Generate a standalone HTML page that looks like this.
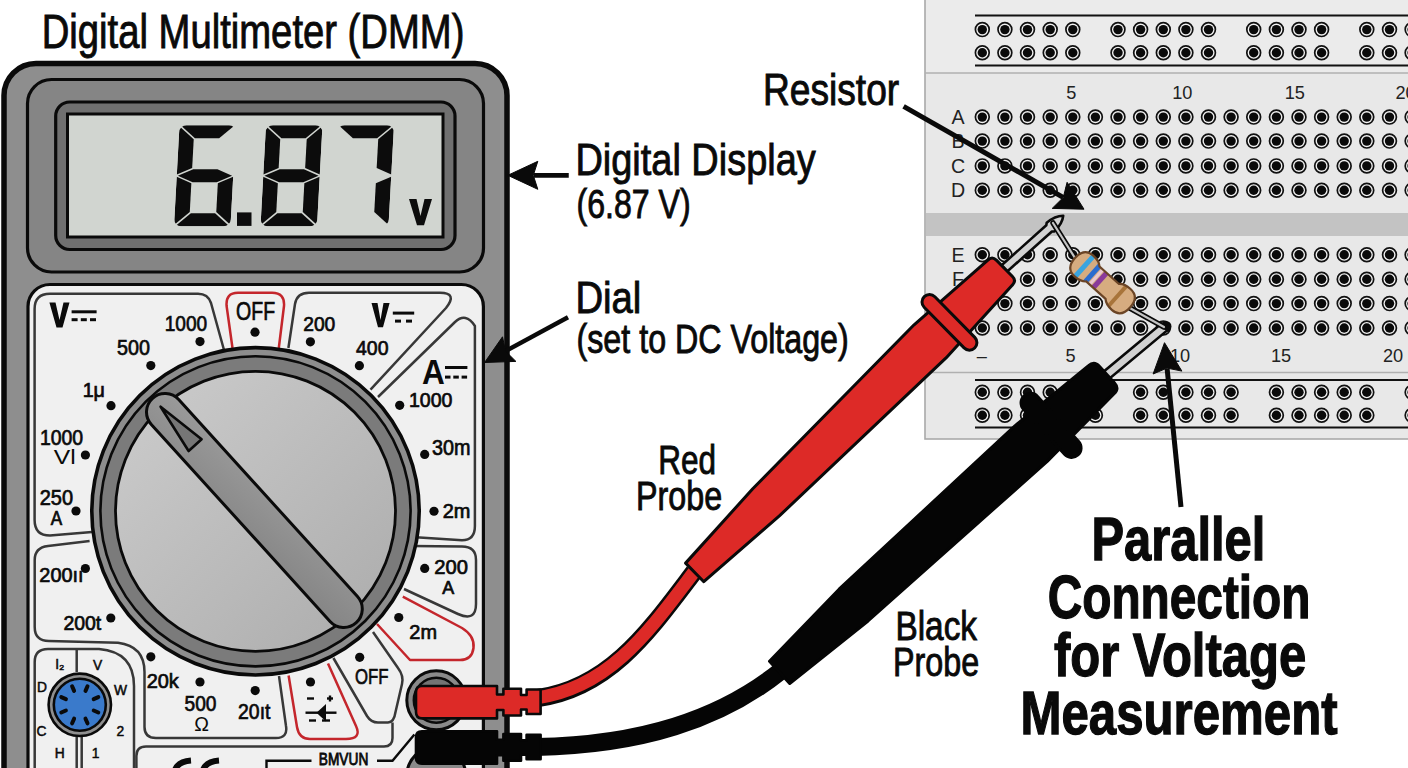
<!DOCTYPE html><html><head><meta charset="utf-8"><style>html,body{margin:0;padding:0;background:#fff;overflow:hidden}svg{display:block}</style></head><body><svg width="1408" height="768" viewBox="0 0 1408 768" font-family='"Liberation Sans", sans-serif'>
<rect width="1408" height="768" fill="#ffffff"/>
<g>
<rect x="925" y="-2" width="490" height="441" fill="#e8e8e8" stroke="#a9a9a9" stroke-width="1.6"/>
<rect x="926" y="0" width="482" height="73" fill="#ebebeb"/>
<line x1="925" y1="73" x2="1408" y2="73" stroke="#b0b0b0" stroke-width="1.5"/>
<rect x="926" y="213" width="482" height="23" fill="#c3c3c3"/>
<line x1="925" y1="372.5" x2="1408" y2="372.5" stroke="#b0b0b0" stroke-width="1.5"/>
<line x1="975" y1="15.5" x2="1408" y2="15.5" stroke="#111" stroke-width="1.8"/>
<line x1="975" y1="65.5" x2="1408" y2="65.5" stroke="#111" stroke-width="1.8"/>
<line x1="975" y1="380" x2="1408" y2="380" stroke="#111" stroke-width="1.8"/>
<line x1="975" y1="427.5" x2="1408" y2="427.5" stroke="#111" stroke-width="1.8"/>
<circle cx="982.3" cy="29.6" r="6.9" fill="#f2f2f2" stroke="#111" stroke-width="1.7"/><circle cx="982.3" cy="29.6" r="4.7" fill="#0a0a0a"/>
<circle cx="1004.9" cy="29.6" r="6.9" fill="#f2f2f2" stroke="#111" stroke-width="1.7"/><circle cx="1004.9" cy="29.6" r="4.7" fill="#0a0a0a"/>
<circle cx="1027.5" cy="29.6" r="6.9" fill="#f2f2f2" stroke="#111" stroke-width="1.7"/><circle cx="1027.5" cy="29.6" r="4.7" fill="#0a0a0a"/>
<circle cx="1050.2" cy="29.6" r="6.9" fill="#f2f2f2" stroke="#111" stroke-width="1.7"/><circle cx="1050.2" cy="29.6" r="4.7" fill="#0a0a0a"/>
<circle cx="1072.8" cy="29.6" r="6.9" fill="#f2f2f2" stroke="#111" stroke-width="1.7"/><circle cx="1072.8" cy="29.6" r="4.7" fill="#0a0a0a"/>
<circle cx="1118.0" cy="29.6" r="6.9" fill="#f2f2f2" stroke="#111" stroke-width="1.7"/><circle cx="1118.0" cy="29.6" r="4.7" fill="#0a0a0a"/>
<circle cx="1140.6" cy="29.6" r="6.9" fill="#f2f2f2" stroke="#111" stroke-width="1.7"/><circle cx="1140.6" cy="29.6" r="4.7" fill="#0a0a0a"/>
<circle cx="1163.3" cy="29.6" r="6.9" fill="#f2f2f2" stroke="#111" stroke-width="1.7"/><circle cx="1163.3" cy="29.6" r="4.7" fill="#0a0a0a"/>
<circle cx="1185.9" cy="29.6" r="6.9" fill="#f2f2f2" stroke="#111" stroke-width="1.7"/><circle cx="1185.9" cy="29.6" r="4.7" fill="#0a0a0a"/>
<circle cx="1208.5" cy="29.6" r="6.9" fill="#f2f2f2" stroke="#111" stroke-width="1.7"/><circle cx="1208.5" cy="29.6" r="4.7" fill="#0a0a0a"/>
<circle cx="1253.7" cy="29.6" r="6.9" fill="#f2f2f2" stroke="#111" stroke-width="1.7"/><circle cx="1253.7" cy="29.6" r="4.7" fill="#0a0a0a"/>
<circle cx="1276.4" cy="29.6" r="6.9" fill="#f2f2f2" stroke="#111" stroke-width="1.7"/><circle cx="1276.4" cy="29.6" r="4.7" fill="#0a0a0a"/>
<circle cx="1299.0" cy="29.6" r="6.9" fill="#f2f2f2" stroke="#111" stroke-width="1.7"/><circle cx="1299.0" cy="29.6" r="4.7" fill="#0a0a0a"/>
<circle cx="1321.6" cy="29.6" r="6.9" fill="#f2f2f2" stroke="#111" stroke-width="1.7"/><circle cx="1321.6" cy="29.6" r="4.7" fill="#0a0a0a"/>
<circle cx="1366.8" cy="29.6" r="6.9" fill="#f2f2f2" stroke="#111" stroke-width="1.7"/><circle cx="1366.8" cy="29.6" r="4.7" fill="#0a0a0a"/>
<circle cx="1389.5" cy="29.6" r="6.9" fill="#f2f2f2" stroke="#111" stroke-width="1.7"/><circle cx="1389.5" cy="29.6" r="4.7" fill="#0a0a0a"/>
<circle cx="1412.1" cy="29.6" r="6.9" fill="#f2f2f2" stroke="#111" stroke-width="1.7"/><circle cx="1412.1" cy="29.6" r="4.7" fill="#0a0a0a"/>
<circle cx="982.3" cy="52.8" r="6.9" fill="#f2f2f2" stroke="#111" stroke-width="1.7"/><circle cx="982.3" cy="52.8" r="4.7" fill="#0a0a0a"/>
<circle cx="1004.9" cy="52.8" r="6.9" fill="#f2f2f2" stroke="#111" stroke-width="1.7"/><circle cx="1004.9" cy="52.8" r="4.7" fill="#0a0a0a"/>
<circle cx="1027.5" cy="52.8" r="6.9" fill="#f2f2f2" stroke="#111" stroke-width="1.7"/><circle cx="1027.5" cy="52.8" r="4.7" fill="#0a0a0a"/>
<circle cx="1050.2" cy="52.8" r="6.9" fill="#f2f2f2" stroke="#111" stroke-width="1.7"/><circle cx="1050.2" cy="52.8" r="4.7" fill="#0a0a0a"/>
<circle cx="1072.8" cy="52.8" r="6.9" fill="#f2f2f2" stroke="#111" stroke-width="1.7"/><circle cx="1072.8" cy="52.8" r="4.7" fill="#0a0a0a"/>
<circle cx="1118.0" cy="52.8" r="6.9" fill="#f2f2f2" stroke="#111" stroke-width="1.7"/><circle cx="1118.0" cy="52.8" r="4.7" fill="#0a0a0a"/>
<circle cx="1140.6" cy="52.8" r="6.9" fill="#f2f2f2" stroke="#111" stroke-width="1.7"/><circle cx="1140.6" cy="52.8" r="4.7" fill="#0a0a0a"/>
<circle cx="1163.3" cy="52.8" r="6.9" fill="#f2f2f2" stroke="#111" stroke-width="1.7"/><circle cx="1163.3" cy="52.8" r="4.7" fill="#0a0a0a"/>
<circle cx="1185.9" cy="52.8" r="6.9" fill="#f2f2f2" stroke="#111" stroke-width="1.7"/><circle cx="1185.9" cy="52.8" r="4.7" fill="#0a0a0a"/>
<circle cx="1208.5" cy="52.8" r="6.9" fill="#f2f2f2" stroke="#111" stroke-width="1.7"/><circle cx="1208.5" cy="52.8" r="4.7" fill="#0a0a0a"/>
<circle cx="1253.7" cy="52.8" r="6.9" fill="#f2f2f2" stroke="#111" stroke-width="1.7"/><circle cx="1253.7" cy="52.8" r="4.7" fill="#0a0a0a"/>
<circle cx="1276.4" cy="52.8" r="6.9" fill="#f2f2f2" stroke="#111" stroke-width="1.7"/><circle cx="1276.4" cy="52.8" r="4.7" fill="#0a0a0a"/>
<circle cx="1299.0" cy="52.8" r="6.9" fill="#f2f2f2" stroke="#111" stroke-width="1.7"/><circle cx="1299.0" cy="52.8" r="4.7" fill="#0a0a0a"/>
<circle cx="1321.6" cy="52.8" r="6.9" fill="#f2f2f2" stroke="#111" stroke-width="1.7"/><circle cx="1321.6" cy="52.8" r="4.7" fill="#0a0a0a"/>
<circle cx="1366.8" cy="52.8" r="6.9" fill="#f2f2f2" stroke="#111" stroke-width="1.7"/><circle cx="1366.8" cy="52.8" r="4.7" fill="#0a0a0a"/>
<circle cx="1389.5" cy="52.8" r="6.9" fill="#f2f2f2" stroke="#111" stroke-width="1.7"/><circle cx="1389.5" cy="52.8" r="4.7" fill="#0a0a0a"/>
<circle cx="1412.1" cy="52.8" r="6.9" fill="#f2f2f2" stroke="#111" stroke-width="1.7"/><circle cx="1412.1" cy="52.8" r="4.7" fill="#0a0a0a"/>
<circle cx="982.3" cy="392.3" r="6.9" fill="#f2f2f2" stroke="#111" stroke-width="1.7"/><circle cx="982.3" cy="392.3" r="4.7" fill="#0a0a0a"/>
<circle cx="1004.9" cy="392.3" r="6.9" fill="#f2f2f2" stroke="#111" stroke-width="1.7"/><circle cx="1004.9" cy="392.3" r="4.7" fill="#0a0a0a"/>
<circle cx="1027.5" cy="392.3" r="6.9" fill="#f2f2f2" stroke="#111" stroke-width="1.7"/><circle cx="1027.5" cy="392.3" r="4.7" fill="#0a0a0a"/>
<circle cx="1050.2" cy="392.3" r="6.9" fill="#f2f2f2" stroke="#111" stroke-width="1.7"/><circle cx="1050.2" cy="392.3" r="4.7" fill="#0a0a0a"/>
<circle cx="1072.8" cy="392.3" r="6.9" fill="#f2f2f2" stroke="#111" stroke-width="1.7"/><circle cx="1072.8" cy="392.3" r="4.7" fill="#0a0a0a"/>
<circle cx="1095.4" cy="392.3" r="6.9" fill="#f2f2f2" stroke="#111" stroke-width="1.7"/><circle cx="1095.4" cy="392.3" r="4.7" fill="#0a0a0a"/>
<circle cx="1140.6" cy="392.3" r="6.9" fill="#f2f2f2" stroke="#111" stroke-width="1.7"/><circle cx="1140.6" cy="392.3" r="4.7" fill="#0a0a0a"/>
<circle cx="1163.3" cy="392.3" r="6.9" fill="#f2f2f2" stroke="#111" stroke-width="1.7"/><circle cx="1163.3" cy="392.3" r="4.7" fill="#0a0a0a"/>
<circle cx="1185.9" cy="392.3" r="6.9" fill="#f2f2f2" stroke="#111" stroke-width="1.7"/><circle cx="1185.9" cy="392.3" r="4.7" fill="#0a0a0a"/>
<circle cx="1208.5" cy="392.3" r="6.9" fill="#f2f2f2" stroke="#111" stroke-width="1.7"/><circle cx="1208.5" cy="392.3" r="4.7" fill="#0a0a0a"/>
<circle cx="1231.1" cy="392.3" r="6.9" fill="#f2f2f2" stroke="#111" stroke-width="1.7"/><circle cx="1231.1" cy="392.3" r="4.7" fill="#0a0a0a"/>
<circle cx="1276.4" cy="392.3" r="6.9" fill="#f2f2f2" stroke="#111" stroke-width="1.7"/><circle cx="1276.4" cy="392.3" r="4.7" fill="#0a0a0a"/>
<circle cx="1299.0" cy="392.3" r="6.9" fill="#f2f2f2" stroke="#111" stroke-width="1.7"/><circle cx="1299.0" cy="392.3" r="4.7" fill="#0a0a0a"/>
<circle cx="1321.6" cy="392.3" r="6.9" fill="#f2f2f2" stroke="#111" stroke-width="1.7"/><circle cx="1321.6" cy="392.3" r="4.7" fill="#0a0a0a"/>
<circle cx="1344.2" cy="392.3" r="6.9" fill="#f2f2f2" stroke="#111" stroke-width="1.7"/><circle cx="1344.2" cy="392.3" r="4.7" fill="#0a0a0a"/>
<circle cx="1366.8" cy="392.3" r="6.9" fill="#f2f2f2" stroke="#111" stroke-width="1.7"/><circle cx="1366.8" cy="392.3" r="4.7" fill="#0a0a0a"/>
<circle cx="1412.1" cy="392.3" r="6.9" fill="#f2f2f2" stroke="#111" stroke-width="1.7"/><circle cx="1412.1" cy="392.3" r="4.7" fill="#0a0a0a"/>
<circle cx="982.3" cy="415.3" r="6.9" fill="#f2f2f2" stroke="#111" stroke-width="1.7"/><circle cx="982.3" cy="415.3" r="4.7" fill="#0a0a0a"/>
<circle cx="1004.9" cy="415.3" r="6.9" fill="#f2f2f2" stroke="#111" stroke-width="1.7"/><circle cx="1004.9" cy="415.3" r="4.7" fill="#0a0a0a"/>
<circle cx="1027.5" cy="415.3" r="6.9" fill="#f2f2f2" stroke="#111" stroke-width="1.7"/><circle cx="1027.5" cy="415.3" r="4.7" fill="#0a0a0a"/>
<circle cx="1050.2" cy="415.3" r="6.9" fill="#f2f2f2" stroke="#111" stroke-width="1.7"/><circle cx="1050.2" cy="415.3" r="4.7" fill="#0a0a0a"/>
<circle cx="1072.8" cy="415.3" r="6.9" fill="#f2f2f2" stroke="#111" stroke-width="1.7"/><circle cx="1072.8" cy="415.3" r="4.7" fill="#0a0a0a"/>
<circle cx="1095.4" cy="415.3" r="6.9" fill="#f2f2f2" stroke="#111" stroke-width="1.7"/><circle cx="1095.4" cy="415.3" r="4.7" fill="#0a0a0a"/>
<circle cx="1140.6" cy="415.3" r="6.9" fill="#f2f2f2" stroke="#111" stroke-width="1.7"/><circle cx="1140.6" cy="415.3" r="4.7" fill="#0a0a0a"/>
<circle cx="1163.3" cy="415.3" r="6.9" fill="#f2f2f2" stroke="#111" stroke-width="1.7"/><circle cx="1163.3" cy="415.3" r="4.7" fill="#0a0a0a"/>
<circle cx="1185.9" cy="415.3" r="6.9" fill="#f2f2f2" stroke="#111" stroke-width="1.7"/><circle cx="1185.9" cy="415.3" r="4.7" fill="#0a0a0a"/>
<circle cx="1208.5" cy="415.3" r="6.9" fill="#f2f2f2" stroke="#111" stroke-width="1.7"/><circle cx="1208.5" cy="415.3" r="4.7" fill="#0a0a0a"/>
<circle cx="1231.1" cy="415.3" r="6.9" fill="#f2f2f2" stroke="#111" stroke-width="1.7"/><circle cx="1231.1" cy="415.3" r="4.7" fill="#0a0a0a"/>
<circle cx="1276.4" cy="415.3" r="6.9" fill="#f2f2f2" stroke="#111" stroke-width="1.7"/><circle cx="1276.4" cy="415.3" r="4.7" fill="#0a0a0a"/>
<circle cx="1299.0" cy="415.3" r="6.9" fill="#f2f2f2" stroke="#111" stroke-width="1.7"/><circle cx="1299.0" cy="415.3" r="4.7" fill="#0a0a0a"/>
<circle cx="1321.6" cy="415.3" r="6.9" fill="#f2f2f2" stroke="#111" stroke-width="1.7"/><circle cx="1321.6" cy="415.3" r="4.7" fill="#0a0a0a"/>
<circle cx="1344.2" cy="415.3" r="6.9" fill="#f2f2f2" stroke="#111" stroke-width="1.7"/><circle cx="1344.2" cy="415.3" r="4.7" fill="#0a0a0a"/>
<circle cx="1366.8" cy="415.3" r="6.9" fill="#f2f2f2" stroke="#111" stroke-width="1.7"/><circle cx="1366.8" cy="415.3" r="4.7" fill="#0a0a0a"/>
<circle cx="1412.1" cy="415.3" r="6.9" fill="#f2f2f2" stroke="#111" stroke-width="1.7"/><circle cx="1412.1" cy="415.3" r="4.7" fill="#0a0a0a"/>
<circle cx="982.3" cy="117.1" r="6.9" fill="#f2f2f2" stroke="#111" stroke-width="1.7"/><circle cx="982.3" cy="117.1" r="4.7" fill="#0a0a0a"/>
<circle cx="1004.9" cy="117.1" r="6.9" fill="#f2f2f2" stroke="#111" stroke-width="1.7"/><circle cx="1004.9" cy="117.1" r="4.7" fill="#0a0a0a"/>
<circle cx="1027.5" cy="117.1" r="6.9" fill="#f2f2f2" stroke="#111" stroke-width="1.7"/><circle cx="1027.5" cy="117.1" r="4.7" fill="#0a0a0a"/>
<circle cx="1050.2" cy="117.1" r="6.9" fill="#f2f2f2" stroke="#111" stroke-width="1.7"/><circle cx="1050.2" cy="117.1" r="4.7" fill="#0a0a0a"/>
<circle cx="1072.8" cy="117.1" r="6.9" fill="#f2f2f2" stroke="#111" stroke-width="1.7"/><circle cx="1072.8" cy="117.1" r="4.7" fill="#0a0a0a"/>
<circle cx="1095.4" cy="117.1" r="6.9" fill="#f2f2f2" stroke="#111" stroke-width="1.7"/><circle cx="1095.4" cy="117.1" r="4.7" fill="#0a0a0a"/>
<circle cx="1118.0" cy="117.1" r="6.9" fill="#f2f2f2" stroke="#111" stroke-width="1.7"/><circle cx="1118.0" cy="117.1" r="4.7" fill="#0a0a0a"/>
<circle cx="1140.6" cy="117.1" r="6.9" fill="#f2f2f2" stroke="#111" stroke-width="1.7"/><circle cx="1140.6" cy="117.1" r="4.7" fill="#0a0a0a"/>
<circle cx="1163.3" cy="117.1" r="6.9" fill="#f2f2f2" stroke="#111" stroke-width="1.7"/><circle cx="1163.3" cy="117.1" r="4.7" fill="#0a0a0a"/>
<circle cx="1185.9" cy="117.1" r="6.9" fill="#f2f2f2" stroke="#111" stroke-width="1.7"/><circle cx="1185.9" cy="117.1" r="4.7" fill="#0a0a0a"/>
<circle cx="1208.5" cy="117.1" r="6.9" fill="#f2f2f2" stroke="#111" stroke-width="1.7"/><circle cx="1208.5" cy="117.1" r="4.7" fill="#0a0a0a"/>
<circle cx="1231.1" cy="117.1" r="6.9" fill="#f2f2f2" stroke="#111" stroke-width="1.7"/><circle cx="1231.1" cy="117.1" r="4.7" fill="#0a0a0a"/>
<circle cx="1253.7" cy="117.1" r="6.9" fill="#f2f2f2" stroke="#111" stroke-width="1.7"/><circle cx="1253.7" cy="117.1" r="4.7" fill="#0a0a0a"/>
<circle cx="1276.4" cy="117.1" r="6.9" fill="#f2f2f2" stroke="#111" stroke-width="1.7"/><circle cx="1276.4" cy="117.1" r="4.7" fill="#0a0a0a"/>
<circle cx="1299.0" cy="117.1" r="6.9" fill="#f2f2f2" stroke="#111" stroke-width="1.7"/><circle cx="1299.0" cy="117.1" r="4.7" fill="#0a0a0a"/>
<circle cx="1321.6" cy="117.1" r="6.9" fill="#f2f2f2" stroke="#111" stroke-width="1.7"/><circle cx="1321.6" cy="117.1" r="4.7" fill="#0a0a0a"/>
<circle cx="1344.2" cy="117.1" r="6.9" fill="#f2f2f2" stroke="#111" stroke-width="1.7"/><circle cx="1344.2" cy="117.1" r="4.7" fill="#0a0a0a"/>
<circle cx="1366.8" cy="117.1" r="6.9" fill="#f2f2f2" stroke="#111" stroke-width="1.7"/><circle cx="1366.8" cy="117.1" r="4.7" fill="#0a0a0a"/>
<circle cx="1389.5" cy="117.1" r="6.9" fill="#f2f2f2" stroke="#111" stroke-width="1.7"/><circle cx="1389.5" cy="117.1" r="4.7" fill="#0a0a0a"/>
<circle cx="1412.1" cy="117.1" r="6.9" fill="#f2f2f2" stroke="#111" stroke-width="1.7"/><circle cx="1412.1" cy="117.1" r="4.7" fill="#0a0a0a"/>
<circle cx="982.3" cy="141.1" r="6.9" fill="#f2f2f2" stroke="#111" stroke-width="1.7"/><circle cx="982.3" cy="141.1" r="4.7" fill="#0a0a0a"/>
<circle cx="1004.9" cy="141.1" r="6.9" fill="#f2f2f2" stroke="#111" stroke-width="1.7"/><circle cx="1004.9" cy="141.1" r="4.7" fill="#0a0a0a"/>
<circle cx="1027.5" cy="141.1" r="6.9" fill="#f2f2f2" stroke="#111" stroke-width="1.7"/><circle cx="1027.5" cy="141.1" r="4.7" fill="#0a0a0a"/>
<circle cx="1050.2" cy="141.1" r="6.9" fill="#f2f2f2" stroke="#111" stroke-width="1.7"/><circle cx="1050.2" cy="141.1" r="4.7" fill="#0a0a0a"/>
<circle cx="1072.8" cy="141.1" r="6.9" fill="#f2f2f2" stroke="#111" stroke-width="1.7"/><circle cx="1072.8" cy="141.1" r="4.7" fill="#0a0a0a"/>
<circle cx="1095.4" cy="141.1" r="6.9" fill="#f2f2f2" stroke="#111" stroke-width="1.7"/><circle cx="1095.4" cy="141.1" r="4.7" fill="#0a0a0a"/>
<circle cx="1118.0" cy="141.1" r="6.9" fill="#f2f2f2" stroke="#111" stroke-width="1.7"/><circle cx="1118.0" cy="141.1" r="4.7" fill="#0a0a0a"/>
<circle cx="1140.6" cy="141.1" r="6.9" fill="#f2f2f2" stroke="#111" stroke-width="1.7"/><circle cx="1140.6" cy="141.1" r="4.7" fill="#0a0a0a"/>
<circle cx="1163.3" cy="141.1" r="6.9" fill="#f2f2f2" stroke="#111" stroke-width="1.7"/><circle cx="1163.3" cy="141.1" r="4.7" fill="#0a0a0a"/>
<circle cx="1185.9" cy="141.1" r="6.9" fill="#f2f2f2" stroke="#111" stroke-width="1.7"/><circle cx="1185.9" cy="141.1" r="4.7" fill="#0a0a0a"/>
<circle cx="1208.5" cy="141.1" r="6.9" fill="#f2f2f2" stroke="#111" stroke-width="1.7"/><circle cx="1208.5" cy="141.1" r="4.7" fill="#0a0a0a"/>
<circle cx="1231.1" cy="141.1" r="6.9" fill="#f2f2f2" stroke="#111" stroke-width="1.7"/><circle cx="1231.1" cy="141.1" r="4.7" fill="#0a0a0a"/>
<circle cx="1253.7" cy="141.1" r="6.9" fill="#f2f2f2" stroke="#111" stroke-width="1.7"/><circle cx="1253.7" cy="141.1" r="4.7" fill="#0a0a0a"/>
<circle cx="1276.4" cy="141.1" r="6.9" fill="#f2f2f2" stroke="#111" stroke-width="1.7"/><circle cx="1276.4" cy="141.1" r="4.7" fill="#0a0a0a"/>
<circle cx="1299.0" cy="141.1" r="6.9" fill="#f2f2f2" stroke="#111" stroke-width="1.7"/><circle cx="1299.0" cy="141.1" r="4.7" fill="#0a0a0a"/>
<circle cx="1321.6" cy="141.1" r="6.9" fill="#f2f2f2" stroke="#111" stroke-width="1.7"/><circle cx="1321.6" cy="141.1" r="4.7" fill="#0a0a0a"/>
<circle cx="1344.2" cy="141.1" r="6.9" fill="#f2f2f2" stroke="#111" stroke-width="1.7"/><circle cx="1344.2" cy="141.1" r="4.7" fill="#0a0a0a"/>
<circle cx="1366.8" cy="141.1" r="6.9" fill="#f2f2f2" stroke="#111" stroke-width="1.7"/><circle cx="1366.8" cy="141.1" r="4.7" fill="#0a0a0a"/>
<circle cx="1389.5" cy="141.1" r="6.9" fill="#f2f2f2" stroke="#111" stroke-width="1.7"/><circle cx="1389.5" cy="141.1" r="4.7" fill="#0a0a0a"/>
<circle cx="1412.1" cy="141.1" r="6.9" fill="#f2f2f2" stroke="#111" stroke-width="1.7"/><circle cx="1412.1" cy="141.1" r="4.7" fill="#0a0a0a"/>
<circle cx="982.3" cy="165.9" r="6.9" fill="#f2f2f2" stroke="#111" stroke-width="1.7"/><circle cx="982.3" cy="165.9" r="4.7" fill="#0a0a0a"/>
<circle cx="1004.9" cy="165.9" r="6.9" fill="#f2f2f2" stroke="#111" stroke-width="1.7"/><circle cx="1004.9" cy="165.9" r="4.7" fill="#0a0a0a"/>
<circle cx="1027.5" cy="165.9" r="6.9" fill="#f2f2f2" stroke="#111" stroke-width="1.7"/><circle cx="1027.5" cy="165.9" r="4.7" fill="#0a0a0a"/>
<circle cx="1050.2" cy="165.9" r="6.9" fill="#f2f2f2" stroke="#111" stroke-width="1.7"/><circle cx="1050.2" cy="165.9" r="4.7" fill="#0a0a0a"/>
<circle cx="1072.8" cy="165.9" r="6.9" fill="#f2f2f2" stroke="#111" stroke-width="1.7"/><circle cx="1072.8" cy="165.9" r="4.7" fill="#0a0a0a"/>
<circle cx="1095.4" cy="165.9" r="6.9" fill="#f2f2f2" stroke="#111" stroke-width="1.7"/><circle cx="1095.4" cy="165.9" r="4.7" fill="#0a0a0a"/>
<circle cx="1118.0" cy="165.9" r="6.9" fill="#f2f2f2" stroke="#111" stroke-width="1.7"/><circle cx="1118.0" cy="165.9" r="4.7" fill="#0a0a0a"/>
<circle cx="1140.6" cy="165.9" r="6.9" fill="#f2f2f2" stroke="#111" stroke-width="1.7"/><circle cx="1140.6" cy="165.9" r="4.7" fill="#0a0a0a"/>
<circle cx="1163.3" cy="165.9" r="6.9" fill="#f2f2f2" stroke="#111" stroke-width="1.7"/><circle cx="1163.3" cy="165.9" r="4.7" fill="#0a0a0a"/>
<circle cx="1185.9" cy="165.9" r="6.9" fill="#f2f2f2" stroke="#111" stroke-width="1.7"/><circle cx="1185.9" cy="165.9" r="4.7" fill="#0a0a0a"/>
<circle cx="1208.5" cy="165.9" r="6.9" fill="#f2f2f2" stroke="#111" stroke-width="1.7"/><circle cx="1208.5" cy="165.9" r="4.7" fill="#0a0a0a"/>
<circle cx="1231.1" cy="165.9" r="6.9" fill="#f2f2f2" stroke="#111" stroke-width="1.7"/><circle cx="1231.1" cy="165.9" r="4.7" fill="#0a0a0a"/>
<circle cx="1253.7" cy="165.9" r="6.9" fill="#f2f2f2" stroke="#111" stroke-width="1.7"/><circle cx="1253.7" cy="165.9" r="4.7" fill="#0a0a0a"/>
<circle cx="1276.4" cy="165.9" r="6.9" fill="#f2f2f2" stroke="#111" stroke-width="1.7"/><circle cx="1276.4" cy="165.9" r="4.7" fill="#0a0a0a"/>
<circle cx="1299.0" cy="165.9" r="6.9" fill="#f2f2f2" stroke="#111" stroke-width="1.7"/><circle cx="1299.0" cy="165.9" r="4.7" fill="#0a0a0a"/>
<circle cx="1321.6" cy="165.9" r="6.9" fill="#f2f2f2" stroke="#111" stroke-width="1.7"/><circle cx="1321.6" cy="165.9" r="4.7" fill="#0a0a0a"/>
<circle cx="1344.2" cy="165.9" r="6.9" fill="#f2f2f2" stroke="#111" stroke-width="1.7"/><circle cx="1344.2" cy="165.9" r="4.7" fill="#0a0a0a"/>
<circle cx="1366.8" cy="165.9" r="6.9" fill="#f2f2f2" stroke="#111" stroke-width="1.7"/><circle cx="1366.8" cy="165.9" r="4.7" fill="#0a0a0a"/>
<circle cx="1389.5" cy="165.9" r="6.9" fill="#f2f2f2" stroke="#111" stroke-width="1.7"/><circle cx="1389.5" cy="165.9" r="4.7" fill="#0a0a0a"/>
<circle cx="1412.1" cy="165.9" r="6.9" fill="#f2f2f2" stroke="#111" stroke-width="1.7"/><circle cx="1412.1" cy="165.9" r="4.7" fill="#0a0a0a"/>
<circle cx="982.3" cy="190.2" r="6.9" fill="#f2f2f2" stroke="#111" stroke-width="1.7"/><circle cx="982.3" cy="190.2" r="4.7" fill="#0a0a0a"/>
<circle cx="1004.9" cy="190.2" r="6.9" fill="#f2f2f2" stroke="#111" stroke-width="1.7"/><circle cx="1004.9" cy="190.2" r="4.7" fill="#0a0a0a"/>
<circle cx="1027.5" cy="190.2" r="6.9" fill="#f2f2f2" stroke="#111" stroke-width="1.7"/><circle cx="1027.5" cy="190.2" r="4.7" fill="#0a0a0a"/>
<circle cx="1050.2" cy="190.2" r="6.9" fill="#f2f2f2" stroke="#111" stroke-width="1.7"/><circle cx="1050.2" cy="190.2" r="4.7" fill="#0a0a0a"/>
<circle cx="1072.8" cy="190.2" r="6.9" fill="#f2f2f2" stroke="#111" stroke-width="1.7"/><circle cx="1072.8" cy="190.2" r="4.7" fill="#0a0a0a"/>
<circle cx="1095.4" cy="190.2" r="6.9" fill="#f2f2f2" stroke="#111" stroke-width="1.7"/><circle cx="1095.4" cy="190.2" r="4.7" fill="#0a0a0a"/>
<circle cx="1118.0" cy="190.2" r="6.9" fill="#f2f2f2" stroke="#111" stroke-width="1.7"/><circle cx="1118.0" cy="190.2" r="4.7" fill="#0a0a0a"/>
<circle cx="1140.6" cy="190.2" r="6.9" fill="#f2f2f2" stroke="#111" stroke-width="1.7"/><circle cx="1140.6" cy="190.2" r="4.7" fill="#0a0a0a"/>
<circle cx="1163.3" cy="190.2" r="6.9" fill="#f2f2f2" stroke="#111" stroke-width="1.7"/><circle cx="1163.3" cy="190.2" r="4.7" fill="#0a0a0a"/>
<circle cx="1185.9" cy="190.2" r="6.9" fill="#f2f2f2" stroke="#111" stroke-width="1.7"/><circle cx="1185.9" cy="190.2" r="4.7" fill="#0a0a0a"/>
<circle cx="1208.5" cy="190.2" r="6.9" fill="#f2f2f2" stroke="#111" stroke-width="1.7"/><circle cx="1208.5" cy="190.2" r="4.7" fill="#0a0a0a"/>
<circle cx="1231.1" cy="190.2" r="6.9" fill="#f2f2f2" stroke="#111" stroke-width="1.7"/><circle cx="1231.1" cy="190.2" r="4.7" fill="#0a0a0a"/>
<circle cx="1253.7" cy="190.2" r="6.9" fill="#f2f2f2" stroke="#111" stroke-width="1.7"/><circle cx="1253.7" cy="190.2" r="4.7" fill="#0a0a0a"/>
<circle cx="1276.4" cy="190.2" r="6.9" fill="#f2f2f2" stroke="#111" stroke-width="1.7"/><circle cx="1276.4" cy="190.2" r="4.7" fill="#0a0a0a"/>
<circle cx="1299.0" cy="190.2" r="6.9" fill="#f2f2f2" stroke="#111" stroke-width="1.7"/><circle cx="1299.0" cy="190.2" r="4.7" fill="#0a0a0a"/>
<circle cx="1321.6" cy="190.2" r="6.9" fill="#f2f2f2" stroke="#111" stroke-width="1.7"/><circle cx="1321.6" cy="190.2" r="4.7" fill="#0a0a0a"/>
<circle cx="1344.2" cy="190.2" r="6.9" fill="#f2f2f2" stroke="#111" stroke-width="1.7"/><circle cx="1344.2" cy="190.2" r="4.7" fill="#0a0a0a"/>
<circle cx="1366.8" cy="190.2" r="6.9" fill="#f2f2f2" stroke="#111" stroke-width="1.7"/><circle cx="1366.8" cy="190.2" r="4.7" fill="#0a0a0a"/>
<circle cx="1389.5" cy="190.2" r="6.9" fill="#f2f2f2" stroke="#111" stroke-width="1.7"/><circle cx="1389.5" cy="190.2" r="4.7" fill="#0a0a0a"/>
<circle cx="1412.1" cy="190.2" r="6.9" fill="#f2f2f2" stroke="#111" stroke-width="1.7"/><circle cx="1412.1" cy="190.2" r="4.7" fill="#0a0a0a"/>
<circle cx="982.3" cy="254.7" r="6.9" fill="#f2f2f2" stroke="#111" stroke-width="1.7"/><circle cx="982.3" cy="254.7" r="4.7" fill="#0a0a0a"/>
<circle cx="1004.9" cy="254.7" r="6.9" fill="#f2f2f2" stroke="#111" stroke-width="1.7"/><circle cx="1004.9" cy="254.7" r="4.7" fill="#0a0a0a"/>
<circle cx="1027.5" cy="254.7" r="6.9" fill="#f2f2f2" stroke="#111" stroke-width="1.7"/><circle cx="1027.5" cy="254.7" r="4.7" fill="#0a0a0a"/>
<circle cx="1050.2" cy="254.7" r="6.9" fill="#f2f2f2" stroke="#111" stroke-width="1.7"/><circle cx="1050.2" cy="254.7" r="4.7" fill="#0a0a0a"/>
<circle cx="1072.8" cy="254.7" r="6.9" fill="#f2f2f2" stroke="#111" stroke-width="1.7"/><circle cx="1072.8" cy="254.7" r="4.7" fill="#0a0a0a"/>
<circle cx="1095.4" cy="254.7" r="6.9" fill="#f2f2f2" stroke="#111" stroke-width="1.7"/><circle cx="1095.4" cy="254.7" r="4.7" fill="#0a0a0a"/>
<circle cx="1118.0" cy="254.7" r="6.9" fill="#f2f2f2" stroke="#111" stroke-width="1.7"/><circle cx="1118.0" cy="254.7" r="4.7" fill="#0a0a0a"/>
<circle cx="1140.6" cy="254.7" r="6.9" fill="#f2f2f2" stroke="#111" stroke-width="1.7"/><circle cx="1140.6" cy="254.7" r="4.7" fill="#0a0a0a"/>
<circle cx="1163.3" cy="254.7" r="6.9" fill="#f2f2f2" stroke="#111" stroke-width="1.7"/><circle cx="1163.3" cy="254.7" r="4.7" fill="#0a0a0a"/>
<circle cx="1185.9" cy="254.7" r="6.9" fill="#f2f2f2" stroke="#111" stroke-width="1.7"/><circle cx="1185.9" cy="254.7" r="4.7" fill="#0a0a0a"/>
<circle cx="1208.5" cy="254.7" r="6.9" fill="#f2f2f2" stroke="#111" stroke-width="1.7"/><circle cx="1208.5" cy="254.7" r="4.7" fill="#0a0a0a"/>
<circle cx="1231.1" cy="254.7" r="6.9" fill="#f2f2f2" stroke="#111" stroke-width="1.7"/><circle cx="1231.1" cy="254.7" r="4.7" fill="#0a0a0a"/>
<circle cx="1253.7" cy="254.7" r="6.9" fill="#f2f2f2" stroke="#111" stroke-width="1.7"/><circle cx="1253.7" cy="254.7" r="4.7" fill="#0a0a0a"/>
<circle cx="1276.4" cy="254.7" r="6.9" fill="#f2f2f2" stroke="#111" stroke-width="1.7"/><circle cx="1276.4" cy="254.7" r="4.7" fill="#0a0a0a"/>
<circle cx="1299.0" cy="254.7" r="6.9" fill="#f2f2f2" stroke="#111" stroke-width="1.7"/><circle cx="1299.0" cy="254.7" r="4.7" fill="#0a0a0a"/>
<circle cx="1321.6" cy="254.7" r="6.9" fill="#f2f2f2" stroke="#111" stroke-width="1.7"/><circle cx="1321.6" cy="254.7" r="4.7" fill="#0a0a0a"/>
<circle cx="1344.2" cy="254.7" r="6.9" fill="#f2f2f2" stroke="#111" stroke-width="1.7"/><circle cx="1344.2" cy="254.7" r="4.7" fill="#0a0a0a"/>
<circle cx="1366.8" cy="254.7" r="6.9" fill="#f2f2f2" stroke="#111" stroke-width="1.7"/><circle cx="1366.8" cy="254.7" r="4.7" fill="#0a0a0a"/>
<circle cx="1389.5" cy="254.7" r="6.9" fill="#f2f2f2" stroke="#111" stroke-width="1.7"/><circle cx="1389.5" cy="254.7" r="4.7" fill="#0a0a0a"/>
<circle cx="1412.1" cy="254.7" r="6.9" fill="#f2f2f2" stroke="#111" stroke-width="1.7"/><circle cx="1412.1" cy="254.7" r="4.7" fill="#0a0a0a"/>
<circle cx="982.3" cy="279.2" r="6.9" fill="#f2f2f2" stroke="#111" stroke-width="1.7"/><circle cx="982.3" cy="279.2" r="4.7" fill="#0a0a0a"/>
<circle cx="1004.9" cy="279.2" r="6.9" fill="#f2f2f2" stroke="#111" stroke-width="1.7"/><circle cx="1004.9" cy="279.2" r="4.7" fill="#0a0a0a"/>
<circle cx="1027.5" cy="279.2" r="6.9" fill="#f2f2f2" stroke="#111" stroke-width="1.7"/><circle cx="1027.5" cy="279.2" r="4.7" fill="#0a0a0a"/>
<circle cx="1050.2" cy="279.2" r="6.9" fill="#f2f2f2" stroke="#111" stroke-width="1.7"/><circle cx="1050.2" cy="279.2" r="4.7" fill="#0a0a0a"/>
<circle cx="1072.8" cy="279.2" r="6.9" fill="#f2f2f2" stroke="#111" stroke-width="1.7"/><circle cx="1072.8" cy="279.2" r="4.7" fill="#0a0a0a"/>
<circle cx="1095.4" cy="279.2" r="6.9" fill="#f2f2f2" stroke="#111" stroke-width="1.7"/><circle cx="1095.4" cy="279.2" r="4.7" fill="#0a0a0a"/>
<circle cx="1118.0" cy="279.2" r="6.9" fill="#f2f2f2" stroke="#111" stroke-width="1.7"/><circle cx="1118.0" cy="279.2" r="4.7" fill="#0a0a0a"/>
<circle cx="1140.6" cy="279.2" r="6.9" fill="#f2f2f2" stroke="#111" stroke-width="1.7"/><circle cx="1140.6" cy="279.2" r="4.7" fill="#0a0a0a"/>
<circle cx="1163.3" cy="279.2" r="6.9" fill="#f2f2f2" stroke="#111" stroke-width="1.7"/><circle cx="1163.3" cy="279.2" r="4.7" fill="#0a0a0a"/>
<circle cx="1185.9" cy="279.2" r="6.9" fill="#f2f2f2" stroke="#111" stroke-width="1.7"/><circle cx="1185.9" cy="279.2" r="4.7" fill="#0a0a0a"/>
<circle cx="1208.5" cy="279.2" r="6.9" fill="#f2f2f2" stroke="#111" stroke-width="1.7"/><circle cx="1208.5" cy="279.2" r="4.7" fill="#0a0a0a"/>
<circle cx="1231.1" cy="279.2" r="6.9" fill="#f2f2f2" stroke="#111" stroke-width="1.7"/><circle cx="1231.1" cy="279.2" r="4.7" fill="#0a0a0a"/>
<circle cx="1253.7" cy="279.2" r="6.9" fill="#f2f2f2" stroke="#111" stroke-width="1.7"/><circle cx="1253.7" cy="279.2" r="4.7" fill="#0a0a0a"/>
<circle cx="1276.4" cy="279.2" r="6.9" fill="#f2f2f2" stroke="#111" stroke-width="1.7"/><circle cx="1276.4" cy="279.2" r="4.7" fill="#0a0a0a"/>
<circle cx="1299.0" cy="279.2" r="6.9" fill="#f2f2f2" stroke="#111" stroke-width="1.7"/><circle cx="1299.0" cy="279.2" r="4.7" fill="#0a0a0a"/>
<circle cx="1321.6" cy="279.2" r="6.9" fill="#f2f2f2" stroke="#111" stroke-width="1.7"/><circle cx="1321.6" cy="279.2" r="4.7" fill="#0a0a0a"/>
<circle cx="1344.2" cy="279.2" r="6.9" fill="#f2f2f2" stroke="#111" stroke-width="1.7"/><circle cx="1344.2" cy="279.2" r="4.7" fill="#0a0a0a"/>
<circle cx="1366.8" cy="279.2" r="6.9" fill="#f2f2f2" stroke="#111" stroke-width="1.7"/><circle cx="1366.8" cy="279.2" r="4.7" fill="#0a0a0a"/>
<circle cx="1389.5" cy="279.2" r="6.9" fill="#f2f2f2" stroke="#111" stroke-width="1.7"/><circle cx="1389.5" cy="279.2" r="4.7" fill="#0a0a0a"/>
<circle cx="1412.1" cy="279.2" r="6.9" fill="#f2f2f2" stroke="#111" stroke-width="1.7"/><circle cx="1412.1" cy="279.2" r="4.7" fill="#0a0a0a"/>
<circle cx="982.3" cy="303.6" r="6.9" fill="#f2f2f2" stroke="#111" stroke-width="1.7"/><circle cx="982.3" cy="303.6" r="4.7" fill="#0a0a0a"/>
<circle cx="1004.9" cy="303.6" r="6.9" fill="#f2f2f2" stroke="#111" stroke-width="1.7"/><circle cx="1004.9" cy="303.6" r="4.7" fill="#0a0a0a"/>
<circle cx="1027.5" cy="303.6" r="6.9" fill="#f2f2f2" stroke="#111" stroke-width="1.7"/><circle cx="1027.5" cy="303.6" r="4.7" fill="#0a0a0a"/>
<circle cx="1050.2" cy="303.6" r="6.9" fill="#f2f2f2" stroke="#111" stroke-width="1.7"/><circle cx="1050.2" cy="303.6" r="4.7" fill="#0a0a0a"/>
<circle cx="1072.8" cy="303.6" r="6.9" fill="#f2f2f2" stroke="#111" stroke-width="1.7"/><circle cx="1072.8" cy="303.6" r="4.7" fill="#0a0a0a"/>
<circle cx="1095.4" cy="303.6" r="6.9" fill="#f2f2f2" stroke="#111" stroke-width="1.7"/><circle cx="1095.4" cy="303.6" r="4.7" fill="#0a0a0a"/>
<circle cx="1118.0" cy="303.6" r="6.9" fill="#f2f2f2" stroke="#111" stroke-width="1.7"/><circle cx="1118.0" cy="303.6" r="4.7" fill="#0a0a0a"/>
<circle cx="1140.6" cy="303.6" r="6.9" fill="#f2f2f2" stroke="#111" stroke-width="1.7"/><circle cx="1140.6" cy="303.6" r="4.7" fill="#0a0a0a"/>
<circle cx="1163.3" cy="303.6" r="6.9" fill="#f2f2f2" stroke="#111" stroke-width="1.7"/><circle cx="1163.3" cy="303.6" r="4.7" fill="#0a0a0a"/>
<circle cx="1185.9" cy="303.6" r="6.9" fill="#f2f2f2" stroke="#111" stroke-width="1.7"/><circle cx="1185.9" cy="303.6" r="4.7" fill="#0a0a0a"/>
<circle cx="1208.5" cy="303.6" r="6.9" fill="#f2f2f2" stroke="#111" stroke-width="1.7"/><circle cx="1208.5" cy="303.6" r="4.7" fill="#0a0a0a"/>
<circle cx="1231.1" cy="303.6" r="6.9" fill="#f2f2f2" stroke="#111" stroke-width="1.7"/><circle cx="1231.1" cy="303.6" r="4.7" fill="#0a0a0a"/>
<circle cx="1253.7" cy="303.6" r="6.9" fill="#f2f2f2" stroke="#111" stroke-width="1.7"/><circle cx="1253.7" cy="303.6" r="4.7" fill="#0a0a0a"/>
<circle cx="1276.4" cy="303.6" r="6.9" fill="#f2f2f2" stroke="#111" stroke-width="1.7"/><circle cx="1276.4" cy="303.6" r="4.7" fill="#0a0a0a"/>
<circle cx="1299.0" cy="303.6" r="6.9" fill="#f2f2f2" stroke="#111" stroke-width="1.7"/><circle cx="1299.0" cy="303.6" r="4.7" fill="#0a0a0a"/>
<circle cx="1321.6" cy="303.6" r="6.9" fill="#f2f2f2" stroke="#111" stroke-width="1.7"/><circle cx="1321.6" cy="303.6" r="4.7" fill="#0a0a0a"/>
<circle cx="1344.2" cy="303.6" r="6.9" fill="#f2f2f2" stroke="#111" stroke-width="1.7"/><circle cx="1344.2" cy="303.6" r="4.7" fill="#0a0a0a"/>
<circle cx="1366.8" cy="303.6" r="6.9" fill="#f2f2f2" stroke="#111" stroke-width="1.7"/><circle cx="1366.8" cy="303.6" r="4.7" fill="#0a0a0a"/>
<circle cx="1389.5" cy="303.6" r="6.9" fill="#f2f2f2" stroke="#111" stroke-width="1.7"/><circle cx="1389.5" cy="303.6" r="4.7" fill="#0a0a0a"/>
<circle cx="1412.1" cy="303.6" r="6.9" fill="#f2f2f2" stroke="#111" stroke-width="1.7"/><circle cx="1412.1" cy="303.6" r="4.7" fill="#0a0a0a"/>
<circle cx="982.3" cy="328.0" r="6.9" fill="#f2f2f2" stroke="#111" stroke-width="1.7"/><circle cx="982.3" cy="328.0" r="4.7" fill="#0a0a0a"/>
<circle cx="1004.9" cy="328.0" r="6.9" fill="#f2f2f2" stroke="#111" stroke-width="1.7"/><circle cx="1004.9" cy="328.0" r="4.7" fill="#0a0a0a"/>
<circle cx="1027.5" cy="328.0" r="6.9" fill="#f2f2f2" stroke="#111" stroke-width="1.7"/><circle cx="1027.5" cy="328.0" r="4.7" fill="#0a0a0a"/>
<circle cx="1050.2" cy="328.0" r="6.9" fill="#f2f2f2" stroke="#111" stroke-width="1.7"/><circle cx="1050.2" cy="328.0" r="4.7" fill="#0a0a0a"/>
<circle cx="1072.8" cy="328.0" r="6.9" fill="#f2f2f2" stroke="#111" stroke-width="1.7"/><circle cx="1072.8" cy="328.0" r="4.7" fill="#0a0a0a"/>
<circle cx="1095.4" cy="328.0" r="6.9" fill="#f2f2f2" stroke="#111" stroke-width="1.7"/><circle cx="1095.4" cy="328.0" r="4.7" fill="#0a0a0a"/>
<circle cx="1118.0" cy="328.0" r="6.9" fill="#f2f2f2" stroke="#111" stroke-width="1.7"/><circle cx="1118.0" cy="328.0" r="4.7" fill="#0a0a0a"/>
<circle cx="1140.6" cy="328.0" r="6.9" fill="#f2f2f2" stroke="#111" stroke-width="1.7"/><circle cx="1140.6" cy="328.0" r="4.7" fill="#0a0a0a"/>
<circle cx="1163.3" cy="328.0" r="6.9" fill="#f2f2f2" stroke="#111" stroke-width="1.7"/><circle cx="1163.3" cy="328.0" r="4.7" fill="#0a0a0a"/>
<circle cx="1185.9" cy="328.0" r="6.9" fill="#f2f2f2" stroke="#111" stroke-width="1.7"/><circle cx="1185.9" cy="328.0" r="4.7" fill="#0a0a0a"/>
<circle cx="1208.5" cy="328.0" r="6.9" fill="#f2f2f2" stroke="#111" stroke-width="1.7"/><circle cx="1208.5" cy="328.0" r="4.7" fill="#0a0a0a"/>
<circle cx="1231.1" cy="328.0" r="6.9" fill="#f2f2f2" stroke="#111" stroke-width="1.7"/><circle cx="1231.1" cy="328.0" r="4.7" fill="#0a0a0a"/>
<circle cx="1253.7" cy="328.0" r="6.9" fill="#f2f2f2" stroke="#111" stroke-width="1.7"/><circle cx="1253.7" cy="328.0" r="4.7" fill="#0a0a0a"/>
<circle cx="1276.4" cy="328.0" r="6.9" fill="#f2f2f2" stroke="#111" stroke-width="1.7"/><circle cx="1276.4" cy="328.0" r="4.7" fill="#0a0a0a"/>
<circle cx="1299.0" cy="328.0" r="6.9" fill="#f2f2f2" stroke="#111" stroke-width="1.7"/><circle cx="1299.0" cy="328.0" r="4.7" fill="#0a0a0a"/>
<circle cx="1321.6" cy="328.0" r="6.9" fill="#f2f2f2" stroke="#111" stroke-width="1.7"/><circle cx="1321.6" cy="328.0" r="4.7" fill="#0a0a0a"/>
<circle cx="1344.2" cy="328.0" r="6.9" fill="#f2f2f2" stroke="#111" stroke-width="1.7"/><circle cx="1344.2" cy="328.0" r="4.7" fill="#0a0a0a"/>
<circle cx="1366.8" cy="328.0" r="6.9" fill="#f2f2f2" stroke="#111" stroke-width="1.7"/><circle cx="1366.8" cy="328.0" r="4.7" fill="#0a0a0a"/>
<circle cx="1389.5" cy="328.0" r="6.9" fill="#f2f2f2" stroke="#111" stroke-width="1.7"/><circle cx="1389.5" cy="328.0" r="4.7" fill="#0a0a0a"/>
<circle cx="1412.1" cy="328.0" r="6.9" fill="#f2f2f2" stroke="#111" stroke-width="1.7"/><circle cx="1412.1" cy="328.0" r="4.7" fill="#0a0a0a"/>
<text x="958" y="124.1" font-size="19.62" fill="#222" text-anchor="middle">A</text>
<text x="958" y="148.1" font-size="19.62" fill="#222" text-anchor="middle">B</text>
<text x="958" y="172.9" font-size="19.62" fill="#222" text-anchor="middle">C</text>
<text x="958" y="197.2" font-size="19.62" fill="#222" text-anchor="middle">D</text>
<text x="958" y="261.7" font-size="19.62" fill="#222" text-anchor="middle">E</text>
<text x="958" y="286.2" font-size="19.62" fill="#222" text-anchor="middle">F</text>
<text x="958" y="310.6" font-size="19.62" fill="#222" text-anchor="middle">G</text>
<text x="958" y="335.0" font-size="19.62" fill="#222" text-anchor="middle">H</text>
<text x="1071.4" y="99" font-size="18.17" fill="#222" text-anchor="middle">5</text>
<text x="1182.3" y="99" font-size="18.17" fill="#222" text-anchor="middle">10</text>
<text x="1294.8" y="99" font-size="18.17" fill="#222" text-anchor="middle">15</text>
<text x="1405.5" y="99" font-size="18.17" fill="#222" text-anchor="middle">20</text>
<text x="981.7" y="361.5" font-size="18.17" fill="#222" text-anchor="middle">–</text>
<text x="1070.6" y="361.5" font-size="18.17" fill="#222" text-anchor="middle">5</text>
<text x="1180" y="361.5" font-size="18.17" fill="#222" text-anchor="middle">10</text>
<text x="1281" y="361.5" font-size="18.17" fill="#222" text-anchor="middle">15</text>
<text x="1393" y="361.5" font-size="18.17" fill="#222" text-anchor="middle">20</text>
</g>
<rect x="4" y="63.5" width="503" height="760" rx="32" fill="#8e8e8e" stroke="#0a0a0a" stroke-width="5.5"/>
<rect x="27.5" y="79.5" width="456" height="192.5" rx="24" fill="#858585" stroke="#0a0a0a" stroke-width="3.2"/>
<rect x="55.7" y="102" width="399.3" height="147.5" rx="14" fill="#707070" stroke="#0a0a0a" stroke-width="3.2"/>
<rect x="67.5" y="114" width="375.5" height="123" fill="#d1d5d0" stroke="#0a0a0a" stroke-width="3"/>
<defs><clipPath id="dg"><rect x="0" y="0" width="56.5" height="101" rx="7"/></clipPath></defs>
<g transform="translate(179.50,125.2) skewX(-3.117)"><g clip-path="url(#dg)">
<polygon points="1.15,0.00 55.35,0.00 40.35,13.00 16.15,13.00" fill="#0c0c0c"/>
<polygon points="0.00,1.15 15.00,14.15 15.00,42.85 0.00,49.35" fill="#0c0c0c"/>
<polygon points="1.15,50.50 16.15,44.00 40.35,44.00 55.35,50.50 40.35,57.00 16.15,57.00" fill="#0c0c0c"/>
<polygon points="0.00,51.65 15.00,58.15 15.00,86.85 0.00,99.85" fill="#0c0c0c"/>
<polygon points="1.15,101.00 16.15,88.00 40.35,88.00 55.35,101.00" fill="#0c0c0c"/>
<polygon points="56.50,51.65 56.50,99.85 41.50,86.85 41.50,58.15" fill="#0c0c0c"/>
</g></g>
<g transform="translate(266.00,125.2) skewX(-3.117)"><g clip-path="url(#dg)">
<polygon points="1.15,0.00 55.35,0.00 40.35,13.00 16.15,13.00" fill="#0c0c0c"/>
<polygon points="56.50,1.15 56.50,49.35 41.50,42.85 41.50,14.15" fill="#0c0c0c"/>
<polygon points="56.50,51.65 56.50,99.85 41.50,86.85 41.50,58.15" fill="#0c0c0c"/>
<polygon points="1.15,101.00 16.15,88.00 40.35,88.00 55.35,101.00" fill="#0c0c0c"/>
<polygon points="0.00,51.65 15.00,58.15 15.00,86.85 0.00,99.85" fill="#0c0c0c"/>
<polygon points="0.00,1.15 15.00,14.15 15.00,42.85 0.00,49.35" fill="#0c0c0c"/>
<polygon points="1.15,50.50 16.15,44.00 40.35,44.00 55.35,50.50 40.35,57.00 16.15,57.00" fill="#0c0c0c"/>
</g></g>
<g transform="translate(337.50,125.2) skewX(-3.117)"><g clip-path="url(#dg)">
<polygon points="1.15,0.00 55.35,0.00 40.35,13.00 16.15,13.00" fill="#0c0c0c"/>
<polygon points="56.50,1.15 56.50,49.35 41.50,42.85 41.50,14.15" fill="#0c0c0c"/>
<polygon points="56.50,51.65 56.50,99.85 41.50,86.85 41.50,58.15" fill="#0c0c0c"/>
</g></g>
<rect x="237" y="212.4" width="14.5" height="13.5" fill="#0c0c0c"/>
<polygon points="409,199 416.5,199 420.5,216 424.5,199 432,199 424,225.3 417,225.3" fill="#0c0c0c"/>
<rect x="28" y="284.5" width="455.4" height="540" rx="22" fill="#f0f0f0" stroke="#0a0a0a" stroke-width="3.2"/>
<path d="M224,350 L211,303 Q208,293.7 198,293.7 L50,293.7 Q34.6,293.7 34.6,309 L34.6,520 Q34.6,535.6 50,535.6 L92,532" fill="none" stroke="#383838" stroke-width="2.5" stroke-linejoin="round"/>
<path d="M232.5,348 L226.6,306 Q225.5,292.8 238,292.8 L272,292.8 Q285,292.8 284,306 L278.8,348" fill="none" stroke="#c4262c" stroke-width="2.5" stroke-linejoin="round"/>
<path d="M288.4,348 L295,304 Q297,292.8 309,292.8 L440,292.8 Q458,292.8 446,308 L370.5,389.7" fill="none" stroke="#383838" stroke-width="2.5" stroke-linejoin="round"/>
<path d="M378,397 L455,322 Q466,312 474.9,326 L474.9,526 Q474.9,540.3 462,540.3 L412,537" fill="none" stroke="#383838" stroke-width="2.5" stroke-linejoin="round"/>
<path d="M412,546 L462,546.6 Q476,546.6 476,560 L476,604 Q476,622 458,614 L404,589" fill="none" stroke="#383838" stroke-width="2.5" stroke-linejoin="round"/>
<path d="M402.8,596.6 L462,628 Q475,636 473.5,648 Q472,660 460,660 L410,660 L377,624" fill="none" stroke="#c4262c" stroke-width="2.5" stroke-linejoin="round"/>
<path d="M333.4,658 L367,716 Q371,722.5 378,722.5 L388,722.5 Q394,722.5 395.5,712 L402,684 Q404,676 398,668 L373,632" fill="none" stroke="#383838" stroke-width="2.5" stroke-linejoin="round"/>
<path d="M288.6,675.5 L297,727 Q299,739 310,739 L346,739 Q362,739 356,726 L328,663.4" fill="none" stroke="#c4262c" stroke-width="2.5" stroke-linejoin="round"/>
<path d="M89.6,541 L48,546 Q34.7,547.5 34.7,560 L34.7,627 Q34.7,641 49,641 L118,642.7 Q144.5,646 144.5,672 L144.5,727 Q144.5,738 156,738 L276,738 Q288,738 286,726 L279,676" fill="none" stroke="#383838" stroke-width="2.5" stroke-linejoin="round"/>
<path d="M34.7,775 L34.7,662 Q34.7,649 48,649 L99,649 Q134,652 134,686 L134,775" fill="none" stroke="#383838" stroke-width="2.5" stroke-linejoin="round"/>
<line x1="76.7" y1="649" x2="76.7" y2="672" fill="none" stroke="#383838" stroke-width="2.5" stroke-linejoin="round"/>
<path d="M76.7,737 L76.7,775 M81.7,737 L81.7,775" fill="none" stroke="#383838" stroke-width="2.5" stroke-linejoin="round"/>
<path d="M136.4,775 L136.4,756 Q136.4,746.5 146,746.5 L384,746.5 Q392.5,746.5 392.5,738 L392.5,722.5" fill="none" stroke="#383838" stroke-width="2.5" stroke-linejoin="round" />
<path d="M34.7,745.5 L392.5,745.5" fill="none" stroke="#4a4a4a" stroke-width="0"/>
<polygon points="49.4,302.4 55.5,302.4 59.5,320 63.5,302.4 69.5,302.4 62.5,327.4 56.5,327.4" fill="#0a0a0a"/>
<rect x="71.6" y="310.3" width="25" height="3" fill="#0a0a0a"/>
<rect x="71.6" y="318.2" width="6" height="3" fill="#0a0a0a"/>
<rect x="80.8" y="318.2" width="6" height="3" fill="#0a0a0a"/>
<rect x="90.0" y="318.2" width="6" height="3" fill="#0a0a0a"/>
<polygon points="371.5,303 377.5,303 380.5,320 383.5,303 389.6,303 383,327.3 378,327.3" fill="#0a0a0a"/>
<rect x="392.8" y="311.6" width="21.4" height="3" fill="#0a0a0a"/>
<rect x="395.0" y="319.6" width="6" height="3" fill="#0a0a0a"/>
<rect x="406.0" y="319.6" width="6" height="3" fill="#0a0a0a"/>
<text x="421.91" y="383.8" font-size="34.59" font-weight="bold" fill="#0a0a0a" textLength="22.81" lengthAdjust="spacingAndGlyphs">A</text>
<rect x="445" y="366" width="22.4" height="3" fill="#0a0a0a"/>
<rect x="445.0" y="375.6" width="5.5" height="3" fill="#0a0a0a"/>
<rect x="453.3" y="375.6" width="5.5" height="3" fill="#0a0a0a"/>
<rect x="461.6" y="375.6" width="5.5" height="3" fill="#0a0a0a"/>
<text x="164.72" y="330.6" font-size="21.95" fill="#0a0a0a" textLength="42.49" lengthAdjust="spacingAndGlyphs" stroke="#0a0a0a" stroke-width="0.7">1000</text>
<text x="117.06" y="355" font-size="21.80" fill="#0a0a0a" textLength="32.95" lengthAdjust="spacingAndGlyphs" stroke="#0a0a0a" stroke-width="0.7">500</text>
<text x="82.67" y="396.6" font-size="19.91" fill="#0a0a0a" textLength="22.30" lengthAdjust="spacingAndGlyphs" stroke="#0a0a0a" stroke-width="0.7">1μ</text>
<text x="236.07" y="320" font-size="25.58" fill="#0a0a0a" textLength="39.05" lengthAdjust="spacingAndGlyphs" stroke="#0a0a0a" stroke-width="0.7">OFF</text>
<text x="303.19" y="330.7" font-size="21.08" fill="#0a0a0a" textLength="32.10" lengthAdjust="spacingAndGlyphs" stroke="#0a0a0a" stroke-width="0.7">200</text>
<text x="355.96" y="355" font-size="20.78" fill="#0a0a0a" textLength="32.54" lengthAdjust="spacingAndGlyphs" stroke="#0a0a0a" stroke-width="0.7">400</text>
<text x="408.88" y="406.8" font-size="20.06" fill="#0a0a0a" textLength="43.54" lengthAdjust="spacingAndGlyphs" stroke="#0a0a0a" stroke-width="0.7">1000</text>
<text x="432.06" y="455" font-size="21.37" fill="#0a0a0a" textLength="38.48" lengthAdjust="spacingAndGlyphs" stroke="#0a0a0a" stroke-width="0.7">30m</text>
<text x="442.75" y="518.4" font-size="19.48" fill="#0a0a0a" textLength="27.67" lengthAdjust="spacingAndGlyphs" stroke="#0a0a0a" stroke-width="0.7">2m</text>
<text x="434.34" y="573.75" font-size="20.35" fill="#0a0a0a" textLength="33.69" lengthAdjust="spacingAndGlyphs" stroke="#0a0a0a" stroke-width="0.7">200</text>
<text x="442.25" y="594.4" font-size="18.17" fill="#0a0a0a" textLength="11.93" lengthAdjust="spacingAndGlyphs" stroke="#0a0a0a" stroke-width="0.7">A</text>
<text x="409.35" y="638.75" font-size="20.35" fill="#0a0a0a" textLength="27.67" lengthAdjust="spacingAndGlyphs" stroke="#0a0a0a" stroke-width="0.7">2m</text>
<text x="39.89" y="444.7" font-size="21.66" fill="#0a0a0a" textLength="43.23" lengthAdjust="spacingAndGlyphs" stroke="#0a0a0a" stroke-width="0.7">1000</text>
<text x="39.65" y="505" font-size="22.09" fill="#0a0a0a" textLength="33.37" lengthAdjust="spacingAndGlyphs" stroke="#0a0a0a" stroke-width="0.7">250</text>
<text x="50.85" y="525.4" font-size="19.62" fill="#0a0a0a" textLength="11.42" lengthAdjust="spacingAndGlyphs" stroke="#0a0a0a" stroke-width="0.7">A</text>
<text x="39.35" y="582.4" font-size="20.20" fill="#0a0a0a" textLength="44.27" lengthAdjust="spacingAndGlyphs" stroke="#0a0a0a" stroke-width="0.7">200ıı</text>
<text x="63.38" y="629.5" font-size="21.08" fill="#0a0a0a" textLength="37.89" lengthAdjust="spacingAndGlyphs" stroke="#0a0a0a" stroke-width="0.7">200t</text>
<text x="146.65" y="687.7" font-size="20.35" fill="#0a0a0a" textLength="32.14" lengthAdjust="spacingAndGlyphs" stroke="#0a0a0a" stroke-width="0.7">20k</text>
<text x="184.59" y="710.5" font-size="21.66" fill="#0a0a0a" textLength="31.90" lengthAdjust="spacingAndGlyphs" stroke="#0a0a0a" stroke-width="0.7">500</text>
<text x="238.08" y="718.5" font-size="21.66" fill="#0a0a0a" textLength="32.32" lengthAdjust="spacingAndGlyphs" stroke="#0a0a0a" stroke-width="0.7">20ıt</text>
<text x="354.90" y="684.2" font-size="22.09" fill="#0a0a0a" textLength="33.50" lengthAdjust="spacingAndGlyphs" stroke="#0a0a0a" stroke-width="0.7">OFF</text>
<text x="53.88" y="464.4" font-size="20.35" fill="#0a0a0a" textLength="21.96" lengthAdjust="spacingAndGlyphs">Vl</text>
<text x="194.21" y="731.4" font-size="20.35" fill="#0a0a0a" textLength="14.73" lengthAdjust="spacingAndGlyphs">Ω</text>
<circle cx="200" cy="341.6" r="4.6" fill="#0a0a0a"/>
<circle cx="150.8" cy="365.6" r="4.6" fill="#0a0a0a"/>
<circle cx="111" cy="405.7" r="4.6" fill="#0a0a0a"/>
<circle cx="255" cy="332.2" r="4.6" fill="#0a0a0a"/>
<circle cx="310.4" cy="341.8" r="4.6" fill="#0a0a0a"/>
<circle cx="359.4" cy="365.7" r="4.6" fill="#0a0a0a"/>
<circle cx="399.7" cy="405.3" r="4.6" fill="#0a0a0a"/>
<circle cx="424.7" cy="454.4" r="4.6" fill="#0a0a0a"/>
<circle cx="434" cy="511.25" r="4.6" fill="#0a0a0a"/>
<circle cx="424.7" cy="568.4" r="4.6" fill="#0a0a0a"/>
<circle cx="398.75" cy="617.5" r="4.6" fill="#0a0a0a"/>
<circle cx="85.4" cy="455" r="4.6" fill="#0a0a0a"/>
<circle cx="76" cy="511" r="4.6" fill="#0a0a0a"/>
<circle cx="85.4" cy="568.5" r="4.6" fill="#0a0a0a"/>
<circle cx="110.8" cy="618" r="4.6" fill="#0a0a0a"/>
<circle cx="150.8" cy="656.8" r="4.6" fill="#0a0a0a"/>
<circle cx="200" cy="682" r="4.6" fill="#0a0a0a"/>
<circle cx="255.2" cy="690.6" r="4.6" fill="#0a0a0a"/>
<circle cx="359.7" cy="657.3" r="4.6" fill="#0a0a0a"/>
<circle cx="310.5" cy="682" r="4.6" fill="#0a0a0a"/>
<g stroke="#0a0a0a" stroke-width="2.4" fill="none"><line x1="305.5" y1="712.7" x2="336.5" y2="712.7"/><line x1="307" y1="698.5" x2="314" y2="698.5"/><line x1="327" y1="698.5" x2="333" y2="698.5"/><line x1="330" y1="695.5" x2="330" y2="701.5"/><line x1="309" y1="720.5" x2="316" y2="720.5"/><line x1="322" y1="720.5" x2="330" y2="720.5"/></g>
<polygon points="316.5,712.7 326,704 326,721.5" fill="#0a0a0a"/>
<text x="318.80" y="765.2" font-size="15.99" fill="#0a0a0a" textLength="49.48" lengthAdjust="spacingAndGlyphs" stroke="#0a0a0a" stroke-width="0.8">BMVUN</text>
<path d="M377,760.8 L392.5,760.8 L414.4,734.5" stroke="#0a0a0a" stroke-width="2.4" fill="none"/>
<path d="M175,770 Q178,761.5 191,760.5 M203,770 Q206,761.5 219,760.5" stroke="#0a0a0a" stroke-width="6" fill="none"/>
<path d="M266.5,775 L266.5,760.8 L311.5,760.8" fill="none" stroke="#0a0a0a" stroke-width="2.4"/>
<defs><linearGradient id="face" x1="0" y1="0" x2="1" y2="1"><stop offset="0" stop-color="#cdcdcd"/><stop offset="1" stop-color="#ababab"/></linearGradient><linearGradient id="ptr" x1="0" y1="0" x2="1" y2="1"><stop offset="0" stop-color="#9a9a9a"/><stop offset="1" stop-color="#858585"/></linearGradient></defs>
<circle cx="255.5" cy="511.3" r="163.7" fill="#8d8d8d" stroke="#0a0a0a" stroke-width="3.6"/>
<circle cx="255.5" cy="511.3" r="155.1" fill="#7b7b7b" stroke="#0a0a0a" stroke-width="2.6"/>
<circle cx="255.5" cy="511.3" r="140" fill="url(#face)" stroke="#0a0a0a" stroke-width="2.8"/>
<g transform="translate(165,412) rotate(47.77)"><rect x="-18.5" y="-18.5" width="303.0" height="37" rx="18.5" fill="url(#ptr)" stroke="#0a0a0a" stroke-width="3"/></g>
<polygon points="160.6,406.7 201.6,439.2 188.6,451" fill="#767676" stroke="#0a0a0a" stroke-width="2.6" stroke-linejoin="round"/>
<circle cx="79.8" cy="704.8" r="31.2" fill="#8f8f8f" stroke="#0a0a0a" stroke-width="2.6"/>
<circle cx="79.8" cy="704.8" r="26" fill="#3a7acb" stroke="#0a0a0a" stroke-width="2.6"/>
<line x1="85.5" y1="690.9" x2="87.5" y2="686.3" stroke="#0a0a0a" stroke-width="4" stroke-linecap="round"/>
<line x1="93.7" y1="699.1" x2="98.3" y2="697.1" stroke="#0a0a0a" stroke-width="4" stroke-linecap="round"/>
<line x1="93.7" y1="710.5" x2="98.3" y2="712.5" stroke="#0a0a0a" stroke-width="4" stroke-linecap="round"/>
<line x1="85.5" y1="718.7" x2="87.5" y2="723.3" stroke="#0a0a0a" stroke-width="4" stroke-linecap="round"/>
<line x1="74.1" y1="718.7" x2="72.1" y2="723.3" stroke="#0a0a0a" stroke-width="4" stroke-linecap="round"/>
<line x1="65.9" y1="710.5" x2="61.3" y2="712.5" stroke="#0a0a0a" stroke-width="4" stroke-linecap="round"/>
<line x1="65.9" y1="699.1" x2="61.3" y2="697.1" stroke="#0a0a0a" stroke-width="4" stroke-linecap="round"/>
<line x1="74.1" y1="690.9" x2="72.1" y2="686.3" stroke="#0a0a0a" stroke-width="4" stroke-linecap="round"/>
<text x="59.8" y="669" font-size="13.81" fill="#0a0a0a" text-anchor="middle" stroke="#0a0a0a" stroke-width="0.5">I₂</text>
<text x="97.5" y="670" font-size="13.81" fill="#0a0a0a" text-anchor="middle" stroke="#0a0a0a" stroke-width="0.5">V</text>
<text x="41.9" y="692" font-size="13.81" fill="#0a0a0a" text-anchor="middle" stroke="#0a0a0a" stroke-width="0.5">D</text>
<text x="120.4" y="695" font-size="13.81" fill="#0a0a0a" text-anchor="middle" stroke="#0a0a0a" stroke-width="0.5">W</text>
<text x="41.5" y="736" font-size="13.81" fill="#0a0a0a" text-anchor="middle" stroke="#0a0a0a" stroke-width="0.5">C</text>
<text x="120.4" y="736" font-size="13.81" fill="#0a0a0a" text-anchor="middle" stroke="#0a0a0a" stroke-width="0.5">2</text>
<text x="59.8" y="758" font-size="13.81" fill="#0a0a0a" text-anchor="middle" stroke="#0a0a0a" stroke-width="0.5">H</text>
<text x="95.6" y="758" font-size="13.81" fill="#0a0a0a" text-anchor="middle" stroke="#0a0a0a" stroke-width="0.5">1</text>
<circle cx="436.3" cy="776" r="29.5" fill="#8a8a8a" stroke="#0a0a0a" stroke-width="3"/>
<circle cx="436.3" cy="700.3" r="29.5" fill="#8a8a8a" stroke="#0a0a0a" stroke-width="3"/>
<circle cx="436.3" cy="700.3" r="22.5" fill="#747474" stroke="#0a0a0a" stroke-width="2.5"/>
<text x="41.69" y="48" font-size="47.97" fill="#0a0a0a" textLength="422.70" lengthAdjust="spacingAndGlyphs" stroke="#0a0a0a" stroke-width="0.9">Digital Multimeter (DMM)</text>
<text x="575.42" y="175.3" font-size="45.06" fill="#0a0a0a" textLength="240.35" lengthAdjust="spacingAndGlyphs" stroke="#0a0a0a" stroke-width="0.9">Digital Display</text>
<text x="576.52" y="217.5" font-size="40.70" fill="#0a0a0a" textLength="114.19" lengthAdjust="spacingAndGlyphs" stroke="#0a0a0a" stroke-width="0.9">(6.87 V)</text>
<text x="575.39" y="312.8" font-size="45.06" fill="#0a0a0a" textLength="65.95" lengthAdjust="spacingAndGlyphs" stroke="#0a0a0a" stroke-width="0.9">Dial</text>
<text x="576.52" y="353.4" font-size="40.70" fill="#0a0a0a" textLength="272.24" lengthAdjust="spacingAndGlyphs" stroke="#0a0a0a" stroke-width="0.9">(set to DC Voltage)</text>
<text x="762.88" y="105" font-size="44.19" fill="#0a0a0a" textLength="136.31" lengthAdjust="spacingAndGlyphs" stroke="#0a0a0a" stroke-width="0.9">Resistor</text>
<text x="658.33" y="474" font-size="39.97" fill="#0a0a0a" textLength="57.81" lengthAdjust="spacingAndGlyphs" stroke="#0a0a0a" stroke-width="0.9">Red</text>
<text x="636.07" y="509.7" font-size="39.97" fill="#0a0a0a" textLength="86.01" lengthAdjust="spacingAndGlyphs" stroke="#0a0a0a" stroke-width="0.9">Probe</text>
<text x="895.38" y="639.8" font-size="39.97" fill="#0a0a0a" textLength="81.65" lengthAdjust="spacingAndGlyphs" stroke="#0a0a0a" stroke-width="0.9">Black</text>
<text x="893.07" y="675.6" font-size="39.97" fill="#0a0a0a" textLength="86.11" lengthAdjust="spacingAndGlyphs" stroke="#0a0a0a" stroke-width="0.9">Probe</text>
<text x="1091.47" y="560.3" font-size="61.63" font-weight="bold" fill="#0a0a0a" textLength="173.85" lengthAdjust="spacingAndGlyphs" stroke="#0a0a0a" stroke-width="1.3">Parallel</text>
<text x="1047.74" y="618" font-size="61.63" font-weight="bold" fill="#0a0a0a" textLength="262.70" lengthAdjust="spacingAndGlyphs" stroke="#0a0a0a" stroke-width="1.3">Connection</text>
<text x="1053.91" y="675.9" font-size="61.63" font-weight="bold" fill="#0a0a0a" textLength="252.37" lengthAdjust="spacingAndGlyphs" stroke="#0a0a0a" stroke-width="1.3">for Voltage</text>
<text x="1020.45" y="733.9" font-size="60.61" font-weight="bold" fill="#0a0a0a" textLength="317.13" lengthAdjust="spacingAndGlyphs" stroke="#0a0a0a" stroke-width="1.3">Measurement</text>
<line x1="568.75" y1="175.3" x2="533.8" y2="175.3" stroke="#0a0a0a" stroke-width="4.8"/>
<polygon points="507.8,175.3 537.8,161.3 533.3,175.3 537.8,189.3" fill="#0a0a0a" stroke="#0a0a0a" stroke-width="1" stroke-linejoin="round"/>
<line x1="568" y1="317.2" x2="505.7" y2="351.0" stroke="#0a0a0a" stroke-width="4.4"/>
<polygon points="484.6,362.5 502.5,336.8 505.5,351.1 515.9,361.4" fill="#0a0a0a" stroke="#0a0a0a" stroke-width="1" stroke-linejoin="round"/>
<path d="M538,698 C610,688 650,630 694,572" fill="none" stroke="#0a0a0a" stroke-width="18" stroke-linecap="butt"/>
<path d="M536,698 C610,688 650,630 694,572" fill="none" stroke="#dd2a27" stroke-width="13"/>
<path d="M536,747 C640,745 720,720 782,670" fill="none" stroke="#050505" stroke-width="18"/>
<path d="M416.0,692.0 Q416,686.0 422,686.0 L497.0,686.0 L497.0,694.5 L503.4,694.5 L503.4,688.8 L521.0,688.8 L521.0,695.0 L526.6,695.0 L526.6,689.5 L540.6,689.5 L540.6,714.0 L526.6,714.0 L526.6,709.5 L521.0,709.5 L521.0,715.5 L503.4,715.5 L503.4,710.0 L497.0,710.0 L497.0,718.4 L422,718.4 Q416,718.4 416,712.0 Z" fill="#dd2a27" stroke="#0a0a0a" stroke-width="2.6" stroke-linejoin="round"/>
<path d="M416.0,737.3 Q416,731.3 422,731.3 L497.0,731.3 L497.0,739.8 L503.4,739.8 L503.4,734.1 L521.0,734.1 L521.0,740.3 L526.6,740.3 L526.6,734.8 L540.6,734.8 L540.6,759.3 L526.6,759.3 L526.6,754.8 L521.0,754.8 L521.0,760.8 L503.4,760.8 L503.4,755.3 L497.0,755.3 L497.0,763.7 L422,763.7 Q416,763.7 416,757.3 Z" fill="#050505" stroke="#050505" stroke-width="2.6" stroke-linejoin="round"/>
<g transform="translate(1004.4,268.4) rotate(-41.85)"><path d="M0,-4.2 L60,-4.2 L62,-5.8 Q73,-5.5 79,0 Q73,5.5 62,5.8 L60,4.2 L0,4.2 Z" fill="#d2d2d2" stroke="#0a0a0a" stroke-width="2.6" stroke-linejoin="round"/></g>
<circle cx="1166" cy="326.5" r="5.5" fill="#0a0a0a"/>
<g transform="translate(1106,375.5) rotate(-39.8)"><path d="M0,-4.5 L76,-4.5 L76,4.5 L0,4.5 Z" fill="#d2d2d2" stroke="#0a0a0a" stroke-width="2.6" stroke-linejoin="round"/></g>
<g transform="translate(694.7,572.4) rotate(-44.47)"><path d="M0.0,-13.0 L100.0,-19.0 L330.0,-23.0 L428.0,-17.5 Q434.0,-17.5 434.0,-11.5 L434.0,11.5 Q434.0,17.5 428.0,17.5 L330.0,23.0 L100.0,19.0 L0.0,13.0 Z" fill="#dd2a27" stroke="#0a0a0a" stroke-width="3" stroke-linejoin="round"/><rect x="349.5" y="-36.0" width="15" height="72" rx="7.5" fill="#dd2a27" stroke="#0a0a0a" stroke-width="3"/></g>
<g transform="translate(779.6,672.4) rotate(-42.30)"><path d="M0.0,-15.0 L100.0,-21.5 L340.0,-24.0 L434.6,-19.0 Q442.6,-19.0 442.6,-11.0 L442.6,11.0 Q442.6,19.0 434.6,19.0 L340.0,24.0 L100.0,21.5 L0.0,15.0 Z" fill="#050505" stroke="#050505" stroke-width="3" stroke-linejoin="round"/><rect x="357.5" y="-40.0" width="19" height="80" rx="9.5" fill="#050505" stroke="#050505" stroke-width="3"/></g>
<path d="M1053,223 L1075,258 M1128,307 L1164,327" stroke="#0a0a0a" stroke-width="5.5" fill="none" stroke-linecap="round"/>
<path d="M1053,223 L1075,258 M1128,307 L1164,327" stroke="#c4c4c4" stroke-width="2.2" fill="none" stroke-linecap="round"/>
<g transform="translate(1075,258) rotate(41.9)"><clipPath id="rc"><path d="M0,0 Q0,-14 12,-14 Q20,-14 24,-10 L50,-10 Q54,-14 62,-14 Q74,-14 74,0 Q74,14 62,14 Q54,14 50,10 L24,10 Q20,14 12,14 Q0,14 0,0 Z"/></clipPath><path d="M0,0 Q0,-14 12,-14 Q20,-14 24,-10 L50,-10 Q54,-14 62,-14 Q74,-14 74,0 Q74,14 62,14 Q54,14 50,10 L24,10 Q20,14 12,14 Q0,14 0,0 Z" fill="#d6ac80"/><g clip-path="url(#rc)"><rect x="10" y="-16" width="5" height="32" fill="#3aa4df"/><rect x="21" y="-16" width="5" height="32" fill="#2a6ccf"/><rect x="27" y="-16" width="3" height="32" fill="#e8c8d0"/><rect x="31" y="-16" width="5" height="32" fill="#8a3a9a"/><rect x="55" y="-16" width="4" height="32" fill="#a8743a"/></g><path d="M0,0 Q0,-14 12,-14 Q20,-14 24,-10 L50,-10 Q54,-14 62,-14 Q74,-14 74,0 Q74,14 62,14 Q54,14 50,10 L24,10 Q20,14 12,14 Q0,14 0,0 Z" fill="none" stroke="#6b4526" stroke-width="2.2"/></g>
<line x1="903.6" y1="106.4" x2="1063.1" y2="197.3" stroke="#0a0a0a" stroke-width="5"/>
<polygon points="1084,209.2 1052.2,208.4 1063.3,197.4 1067.1,182.3" fill="#0a0a0a" stroke="#0a0a0a" stroke-width="1" stroke-linejoin="round"/>
<line x1="1181" y1="507" x2="1167.1" y2="368.6" stroke="#0a0a0a" stroke-width="5"/>
<polygon points="1164.5,342.7 1181.9,371.1 1167.0,368.1 1153.1,374.0" fill="#0a0a0a" stroke="#0a0a0a" stroke-width="1" stroke-linejoin="round"/>
</svg></body></html>
